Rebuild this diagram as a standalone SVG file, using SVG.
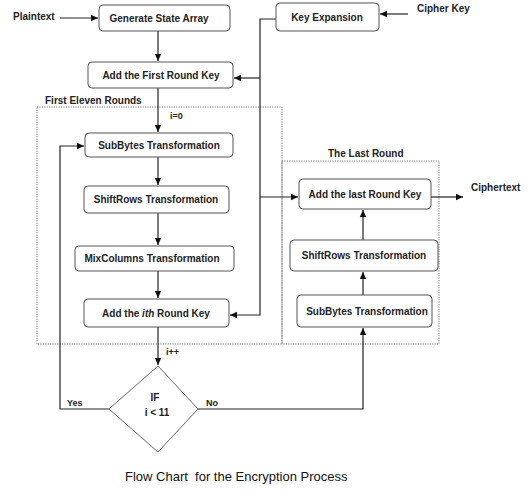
<svg xmlns="http://www.w3.org/2000/svg" width="531" height="497" viewBox="0 0 531 497">
<style>
.box{fill:#fff;stroke:#555;stroke-width:1}
.t{font-family:"Liberation Sans",Arial,sans-serif;font-weight:bold;font-size:10px;fill:#222;text-anchor:middle}
.l{font-family:"Liberation Sans",Arial,sans-serif;font-weight:bold;font-size:10px;fill:#222}
.s{font-family:"Liberation Sans",Arial,sans-serif;font-weight:bold;font-size:9px;fill:#222}
.c{fill:none;stroke:#222;stroke-width:1.2}
.dot{fill:none;stroke:#777;stroke-width:1;stroke-dasharray:1.2 1.2}
.cap{font-family:"Liberation Sans",Arial,sans-serif;font-size:13px;fill:#111;white-space:pre}
</style>
<defs>
<marker id="ah" markerUnits="userSpaceOnUse" markerWidth="8" markerHeight="8" refX="7" refY="4" orient="auto">
<path d="M0,0.8 L7,4 L0,7.2 Z" fill="#111"/>
</marker>
</defs>
<rect width="531" height="497" fill="#fff"/>
<g id="regions">
<rect class="dot" x="37" y="107" width="245" height="237"/>
<rect class="dot" x="282" y="161" width="157" height="183"/>
<text class="l" x="45" y="104">First Eleven Rounds</text>
<text class="l" x="328" y="157">The Last Round</text>
</g>
<g id="connectors">
<path class="c" d="M60,18 H98" marker-end="url(#ah)"/>
<path class="c" d="M158,31 V61" marker-end="url(#ah)"/>
<path class="c" d="M276,19 H260 V315 H230" marker-end="url(#ah)"/>
<path class="c" d="M260,78 H234" marker-end="url(#ah)"/>
<path class="c" d="M260,197 H298" marker-end="url(#ah)"/>
<path class="c" d="M158,88 V132" marker-end="url(#ah)"/>
<path class="c" d="M158,157 V185" marker-end="url(#ah)"/>
<path class="c" d="M158,213 V245" marker-end="url(#ah)"/>
<path class="c" d="M158,271 V298" marker-end="url(#ah)"/>
<path class="c" d="M158,327 V365" marker-end="url(#ah)"/>
<path class="c" d="M109,409 H60 V146 H84" marker-end="url(#ah)"/>
<path class="c" d="M198,409 H363 V328" marker-end="url(#ah)"/>
<path class="c" d="M363,295 V272" marker-end="url(#ah)"/>
<path class="c" d="M363,240 V210" marker-end="url(#ah)"/>
<path class="c" d="M431,197 H463" marker-end="url(#ah)"/>
<path class="c" d="M408,14 H380" marker-end="url(#ah)"/>
<text class="s" x="170" y="119">i=0</text>
<text class="s" x="166" y="355">i++</text>
<text class="s" x="67" y="406">Yes</text>
<text class="s" x="206" y="406">No</text>
</g>
<g id="plaintext"><text class="l" x="13" y="20">Plaintext</text></g>
<g id="cipherkey"><text class="l" x="417" y="12">Cipher Key</text></g>
<g id="ciphertext"><text class="l" x="471" y="191">Ciphertext</text></g>
<g id="gen"><rect class="box" x="99" y="5" width="131" height="26" rx="4"/><text class="t" x="159" y="21.5">Generate State Array</text></g>
<g id="firstkey"><rect class="box" x="88" y="62" width="145" height="26" rx="4"/><text class="t" x="161" y="78.5">Add the First Round Key</text></g>
<g id="keyexp"><rect class="box" x="276" y="3" width="103" height="28" rx="4"/><text class="t" x="327" y="20.5">Key Expansion</text></g>
<g id="subbytes"><rect class="box" x="85" y="133" width="148" height="24" rx="4"/><text class="t" x="159" y="148.5">SubBytes Transformation</text></g>
<g id="shiftrows"><rect class="box" x="84" y="186" width="145" height="27" rx="4"/><text class="t" x="156" y="203">ShiftRows Transformation</text></g>
<g id="mixcolumns"><rect class="box" x="75" y="246" width="159" height="25" rx="4"/><text class="t" x="152" y="262">MixColumns Transformation</text></g>
<g id="ithkey"><rect class="box" x="84" y="299" width="145" height="28" rx="4"/><text class="t" x="156" y="316.5">Add the <tspan font-style="italic">ith</tspan> Round Key</text></g>
<g id="lastkey"><rect class="box" x="299" y="179" width="132" height="30" rx="4"/><text class="t" x="365" y="197.5">Add the last Round Key</text></g>
<g id="shiftrows2"><rect class="box" x="290" y="240" width="148" height="31" rx="4"/><text class="t" x="364" y="259">ShiftRows Transformation</text></g>
<g id="subbytes2"><rect class="box" x="297" y="295" width="135" height="32" rx="4"/><text class="t" x="367" y="314.5">SubBytes Transformation</text></g>
<g id="decision"><path d="M158,366 L198,409 L158,452 L109,409 Z" fill="#fff" stroke="#666" stroke-width="1"/><text class="t" x="155" y="401">IF</text><text class="t" x="157" y="416">i &lt; 11</text></g>
<text class="cap" x="125" y="481" xml:space="preserve">Flow Chart  for the Encryption Process</text>
</svg>
